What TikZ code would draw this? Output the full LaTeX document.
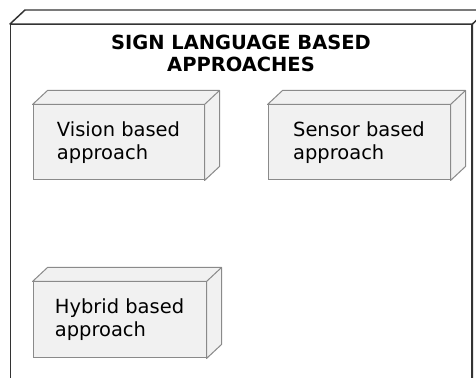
\documentclass[tikz,border=0pt]{standalone}
\usepackage{fontspec}
\setmainfont{DejaVu Sans}
\usetikzlibrary{calc}
\definecolor{boxfill}{HTML}{F1F1F1}
\definecolor{boxline}{HTML}{8A8A8A}
\definecolor{outerline}{HTML}{333333}
\newcommand\depthfaces[3]{%
  \draw[#2, line join=round] (#1.north west) -- ++(15,-14) -- ($(#1.north east)+(15,-14)$) -- ($(#1.south east)+(15,-14)$) -- (#1.south east) -- (#1.north east) -- cycle;
  \draw[#3] (#1.north east) -- ++(15,-14);}
\tikzset{
  boxstyle/.style={draw=boxline, fill=boxfill, line width=0.75pt, inner sep=0pt, align=left,
    font=\fontsize{14.6pt}{17.3pt}\selectfont},
  boxfaces/.style={draw=boxline, fill=boxfill, line width=0.75pt},
  boxedge/.style={draw=boxline, line width=0.75pt},
  outerstyle/.style={draw=outerline, fill=white, line width=1.1pt, inner sep=0pt},
  outerfaces/.style={draw=outerline, fill=white, line width=1.1pt},
  outeredge/.style={draw=outerline, line width=1.1pt},
  titlestyle/.style={align=center, font=\bfseries\fontsize{14.6pt}{16.5pt}\selectfont, inner sep=0pt}
}
\begin{document}
\begin{tikzpicture}[x=0.75pt,y=-0.75pt]
\useasboundingbox (0,0) rectangle (476,378);
\clip (0,0) rectangle (476,378);
\node[outerstyle, anchor=north west, minimum width=345.75pt, minimum height=330pt] (outer) at (10,24) {};
\depthfaces{outer}{outerfaces}{outeredge}
\node[titlestyle] (title) at (241,53) {SIGN LANGUAGE BASED\\APPROACHES};
\node[boxstyle, minimum width=128.25pt, minimum height=56.25pt] (vision) at (118.5,142.5) {Vision based\\approach};
\depthfaces{vision}{boxfaces}{boxedge}
\node[boxstyle, minimum width=136.5pt, minimum height=56.25pt] (sensor) at (359,142.5) {Sensor based\\approach};
\depthfaces{sensor}{boxfaces}{boxedge}
\node[boxstyle, minimum width=129.75pt, minimum height=57pt] (hybrid) at (119.5,320) {Hybrid based\\approach};
\depthfaces{hybrid}{boxfaces}{boxedge}
\end{tikzpicture}
\end{document}
